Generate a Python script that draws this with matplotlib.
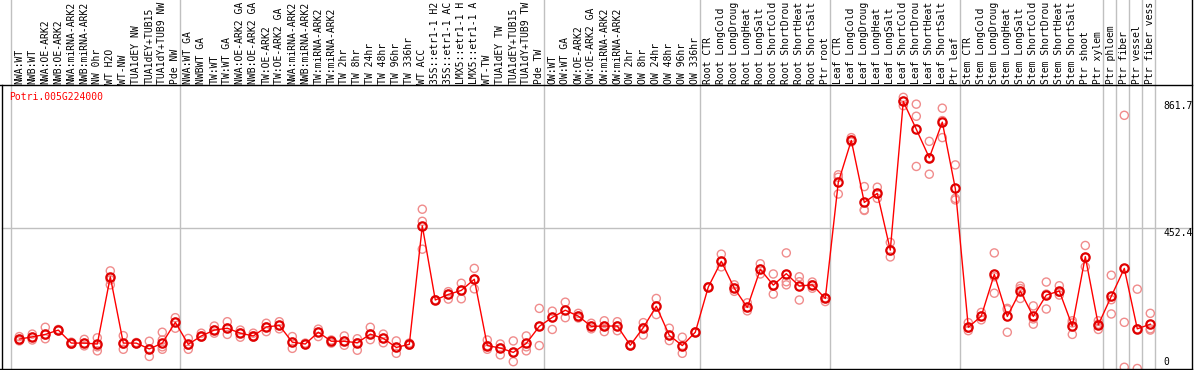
import matplotlib
matplotlib.use("Agg")
import matplotlib.pyplot as plt
import numpy as np

gene_id = "Potri.005G224000"

# sample labels as shown (truncated to 14 characters in the picture)
samples = [
    "NWA:WT", "NWB:WT", "NWA:OE-ARK2", "NWB:OE-ARK2", "NWA:miRNA-ARK2", "NWB:miRNA-ARK2",
    "NW 0hr", "WT H2O", "WT-NW", "TUA1dEY NW", "TUA1dEY+TUB15", "TUA1dY+TUB9 NW", "Pde NW",
    "NWA:WT GA", "NWBWT GA", "TW:WT", "TW:WT GA", "NWA:OE-ARK2 GA", "NWB:OE-ARK2 GA",
    "TW:OE-ARK2", "TW:OE-ARK2 GA", "NWA:miRNA-ARK2", "NWB:miRNA-ARK2", "TW:miRNA-ARK2",
    "TW:miRNA-ARK2", "TW 2hr", "TW 8hr", "TW 24hr", "TW 48hr", "TW 96hr", "TW 336hr",
    "WT ACC", "35S::etr1-1 H2", "35S::etr1-1 AC", "LMX5::etr1-1 H", "LMX5::etr1-1 A",
    "WT-TW", "TUA1dEY TW", "TUA1dEY+TUB15", "TUA1dY+TUB9 TW", "Pde TW",
    "OW:WT", "OW:WT GA", "OW:OE-ARK2", "OW:OE-ARK2 GA", "OW:miRNA-ARK2", "OW:miRNA-ARK2",
    "OW 2hr", "OW 8hr", "OW 24hr", "OW 48hr", "OW 96hr", "OW 336hr",
    "Root CTR", "Root LongCold", "Root LongDroug", "Root LongHeat", "Root LongSalt",
    "Root ShortCold", "Root ShortDrou", "Root ShortHeat", "Root ShortSalt", "Ptr root",
    "Leaf CTR", "Leaf LongCold", "Leaf LongDroug", "Leaf LongHeat", "Leaf LongSalt",
    "Leaf ShortCold", "Leaf ShortDrou", "Leaf ShortHeat", "Leaf ShortSalt", "Ptr leaf",
    "Stem CTR", "Stem LongCold", "Stem LongDroug", "Stem LongHeat", "Stem LongSalt",
    "Stem ShortCold", "Stem ShortDrou", "Stem ShortHeat", "Stem ShortSalt", "Ptr shoot",
    "Ptr xylem", "Ptr phloem", "Ptr fiber", "Ptr vessel", "Ptr fiber vess",
]

# number of samples in each block between the grey separators
group_sizes = [13, 28, 12, 10, 10, 11, 1, 1, 1, 1]

means = [
    95, 102, 110, 124, 82, 82, 79, 296, 82, 82, 63, 82, 149,
    78, 105, 124, 130, 114, 105, 134, 139, 85, 79, 117, 88, 88, 83, 111, 97, 68, 78,
    460, 221, 239, 252, 288, 74, 66, 52, 81, 136,
    165, 188, 169, 136, 137, 137, 75, 132, 201, 107, 74, 117,
    263, 346, 259, 197, 320, 269, 306, 266, 270, 226,
    601, 736, 536, 565, 382, 861.7, 772, 680, 795, 581,
    133, 169, 304, 168, 250, 168, 237, 250, 137, 361, 141,
    233, 323, 128, 143,
]

replicates = [
    [103, 94, 89], [111, 101, 92], [133, 108, 96], [122, 124, 126], [85, 78, 82],
    [94, 81, 73], [99, 70, 57], [315, 286, 270], [106, 62, 79], [80, 82, 84],
    [88, 39, 63], [117, 92, 70, 62], [164, 149, 130],
    [97, 62, 75], [114, 101, 104], [137, 114, 124], [151, 110, 130], [124, 101, 114],
    [114, 101, 105], [146, 119, 134], [151, 128, 139], [103, 65, 85], [82, 77, 79],
    [127, 103, 117], [92, 82, 88], [105, 75, 88], [96, 59, 83], [133, 93, 111],
    [111, 83, 97], [89, 49, 68], [82, 75, 78], [514, 475, 385], [222, 220, 221],
    [248, 224, 239], [275, 225, 252], [323, 257, 288], [92, 62, 74], [79, 44, 66],
    [89, 22, 52], [105, 70, 57], [194, 74, 136],
    [185, 126, 165], [214, 164, 188], [178, 163, 169], [146, 128, 136], [154, 119, 137],
    [151, 122, 137], [75, 73, 77], [148, 108, 132], [226, 174, 201], [130, 90, 107],
    [101, 49, 74], [117, 116, 118],
    [263, 262, 264], [369, 328, 346], [270, 249, 259], [212, 186, 197], [338, 305, 320],
    [305, 240, 269], [373, 280, 270], [296, 221, 280], [279, 259, 270], [216, 228, 226],
    [625, 617, 563], [745, 731, 736], [587, 512, 510], [585, 549, 562], [407, 360, 380],
    [875, 848, 862], [853, 814, 652], [733, 627, 680], [840, 745, 800], [657, 549, 544],
    [148, 122, 130], [181, 157, 169], [373, 243, 296], [194, 190, 117], [266, 226, 258],
    [202, 143, 160], [279, 192, 240], [267, 237, 246], [154, 110, 147], [397, 328, 358],
    [154, 126, 143], [301, 176, 222], [817, 149, 4], [256, 0, 128], [178, 124, 128],
]

axis_marks = [861.7, 452.4, 0]
grid_values = [452.4]

# ---- layout (pixel based, figure is 1194 x 370 at dpi 100)
W, H = 1194, 370
x0_px, step_px = 19.3, 13.0      # first sample column and spacing
zero_px, px_per_unit = 368.5, 0.3099
top_px, bottom_px = 85, 369
left_px, right_px = 1.5, 1192

mono = "DejaVu Sans Mono"
fs = 7

def col(p):
    # pixel column -> sample index units
    return (p - x0_px) / step_px

def row(p):
    # pixel row (from top) -> value units
    return (zero_px - p) / px_per_unit

fig = plt.figure(figsize=(W / 100, H / 100), dpi=100)
ax = fig.add_axes([0, 0, 1, 1])
ax.axis("off")
ax.set_xlim(col(0), col(W))
ax.set_ylim(row(H), row(0))

x = np.arange(len(samples))

# grey separators between sample blocks
bounds = np.concatenate([[0], np.cumsum(group_sizes)]) - 0.64
for b in bounds:
    ax.plot([b, b], [row(bottom_px), row(0)], color="#c0c0c0", lw=1.0, zorder=1)

for g in grid_values:
    ax.plot([col(left_px), col(right_px)], [g, g], color="#c0c0c0", lw=1.0, zorder=1)

# frame
ax.plot([col(0), col(right_px)], [row(top_px)] * 2, color="black", lw=1.0, zorder=4)
ax.plot([col(0), col(right_px)], [row(bottom_px)] * 2, color="black", lw=1.0, zorder=4)
ax.plot([col(left_px)] * 2, [row(bottom_px), row(top_px)], color="black", lw=1.0, zorder=4)
ax.plot([col(right_px)] * 2, [row(bottom_px), row(0)], color="black", lw=1.0, zorder=4)

# replicate values
rx = [i for i, r in enumerate(replicates) for _ in r]
ry = [v for r in replicates for v in r]
ax.scatter(rx, ry, s=34, facecolors="none", edgecolors="#f08c8c", linewidths=1.0, zorder=2)

# means
ax.plot(x, means, color="red", lw=1.0, marker="o", ms=6, mfc="none",
        mec="#e00000", mew=1.6, zorder=3)

# sample labels above the plot
for i, s in enumerate(samples):
    ax.text(i, row(top_px - 1.5), s, rotation=90, ha="center", va="bottom",
            family=mono, fontsize=fs, color="black")

ax.text(col(9.5), row(97), gene_id, color="red", family=mono, fontsize=fs,
        ha="left", va="center")

# value marks at the right, text sits just below its level (0 kept inside the frame)
for v in axis_marks:
    label_row = 362 if v == 0 else zero_px - v * px_per_unit + 4.5
    ax.text(col(1163), row(label_row), f"{v}", family=mono, fontsize=fs,
            ha="left", va="center")

fig.savefig("out.png", dpi=100)
